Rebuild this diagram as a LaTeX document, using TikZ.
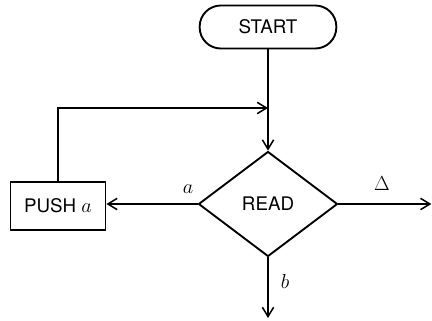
\documentclass[tikz,border=0pt]{standalone}
\usepackage{fontspec}
\setmainfont{TeX Gyre Heros}
\usepackage{tikz}
\usetikzlibrary{positioning,calc,arrows.meta,shapes.geometric}
\tikzset{
  flow/.style={line width=1.6pt, -{Straight Barb[length=2.8mm,width=3.4mm,line width=1.3pt]}},
  termbox/.style={draw, line width=1.6pt, rounded corners=18pt, minimum width=4.1cm, minimum height=1.29cm},
  readbox/.style={draw, diamond, line width=1.6pt, inner sep=0pt, minimum width=4.17cm, minimum height=3.15cm},
  opbox/.style={draw, line width=1.6pt, minimum width=2.85cm, minimum height=1.44cm},
  lbl/.style={font=\LARGE}
}

\begin{document}
\begin{tikzpicture}[font=\fontsize{16}{19}\selectfont]
  \useasboundingbox (0,0) rectangle (12.96,-9.6);
  \node[termbox] (start) at (8.04,-0.81) {START};
  \node[readbox] (read) at (8.04,-6.12) {READ};
  \node[opbox] (push) at (1.74,-6.18) {PUSH $a$};
  \coordinate (join) at (8.04,-3.24);
  \coordinate (acc) at (12.94,-6.12);
  \coordinate (rej) at (8.04,-9.54);
  % main path
  \draw[flow] (start.south) -- (read.north);
  \draw[flow] (read.west) -- (read.west -| push.east);
  \draw[flow] (push.north) |- (join);
  \draw[flow] (read.east) -- (acc);
  \draw[flow] (read.south) -- (rej);
  % branch labels
  \node[lbl] (la) at (5.64,-5.68) {$a$};
  \node[lbl] (ld) at (11.46,-5.5) {$\Delta$};
  \node[lbl] (lb) at (8.55,-8.45) {$b$};
\end{tikzpicture}
\end{document}
